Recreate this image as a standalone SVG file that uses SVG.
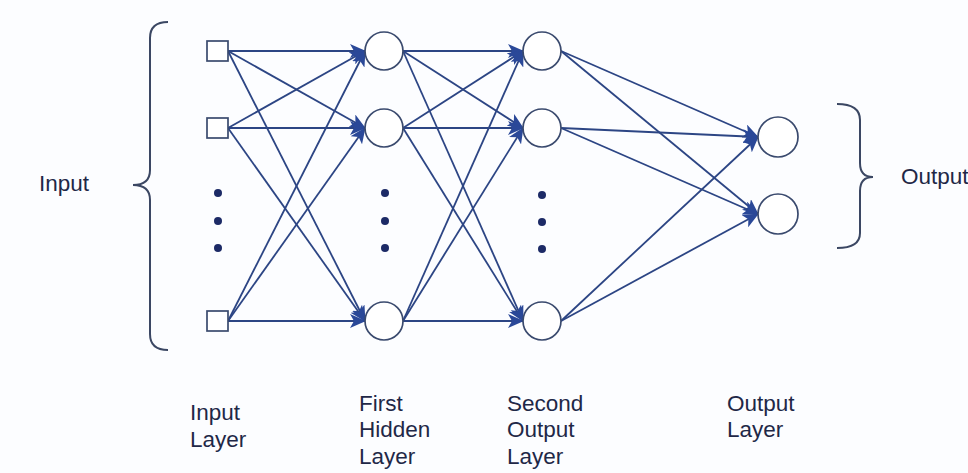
<svg xmlns="http://www.w3.org/2000/svg" width="968" height="473" viewBox="0 0 968 473">
<defs>
<marker id="arr" markerUnits="userSpaceOnUse" markerWidth="16" markerHeight="14" viewBox="0 0 16 14" refX="15" refY="7" orient="auto">
<path d="M0,0 L16,7 L0,14 L4,7 Z" fill="#2a4898"/>
</marker>
<style>
.edge{stroke:#2c4584;stroke-width:1.8;fill:none;marker-end:url(#arr)}
.sq{fill:#fff;stroke:#3a4a6e;stroke-width:1.7}
.nd{fill:#fff;stroke:#3a4a6e;stroke-width:1.7}
.dot{fill:#1c2a66}
.brace{fill:none;stroke:#3b4763;stroke-width:2}
.lbl{font-family:"Liberation Sans",Arial,sans-serif;font-size:22.5px;fill:#1f2847}
</style>
</defs>
<rect width="968" height="473" fill="#fcfdff"/>
<g id="connectors">
<line class="edge" x1="228" y1="51" x2="365" y2="51"/>
<line class="edge" x1="228" y1="51" x2="365" y2="128"/>
<line class="edge" x1="228" y1="51" x2="365" y2="321"/>
<line class="edge" x1="228" y1="128" x2="365" y2="51"/>
<line class="edge" x1="228" y1="128" x2="365" y2="128"/>
<line class="edge" x1="228" y1="128" x2="365" y2="321"/>
<line class="edge" x1="228" y1="321" x2="365" y2="51"/>
<line class="edge" x1="228" y1="321" x2="365" y2="128"/>
<line class="edge" x1="228" y1="321" x2="365" y2="321"/>
<line class="edge" x1="403" y1="51" x2="523" y2="51"/>
<line class="edge" x1="403" y1="51" x2="523" y2="128"/>
<line class="edge" x1="403" y1="51" x2="523" y2="321"/>
<line class="edge" x1="403" y1="128" x2="523" y2="51"/>
<line class="edge" x1="403" y1="128" x2="523" y2="128"/>
<line class="edge" x1="403" y1="128" x2="523" y2="321"/>
<line class="edge" x1="403" y1="321" x2="523" y2="51"/>
<line class="edge" x1="403" y1="321" x2="523" y2="128"/>
<line class="edge" x1="403" y1="321" x2="523" y2="321"/>
<line class="edge" x1="561" y1="51" x2="758" y2="137"/>
<line class="edge" x1="561" y1="51" x2="758" y2="214"/>
<line class="edge" x1="561" y1="128" x2="758" y2="137"/>
<line class="edge" x1="561" y1="128" x2="758" y2="214"/>
<line class="edge" x1="561" y1="321" x2="758" y2="137"/>
<line class="edge" x1="561" y1="321" x2="758" y2="214"/>
</g>
<g id="input-layer">
<rect class="sq" x="207" y="41" width="21" height="20"/>
<rect class="sq" x="207" y="118" width="21" height="20"/>
<rect class="sq" x="207" y="311" width="21" height="20"/>
<circle class="dot" cx="218" cy="193" r="4"/>
<circle class="dot" cx="218" cy="221" r="4"/>
<circle class="dot" cx="218" cy="248" r="4"/>
</g>
<g id="hidden1">
<circle class="nd" cx="384" cy="51" r="19"/>
<circle class="nd" cx="384" cy="128" r="19"/>
<circle class="nd" cx="384" cy="321" r="19"/>
<circle class="dot" cx="385" cy="193" r="4"/>
<circle class="dot" cx="385" cy="221" r="4"/>
<circle class="dot" cx="385" cy="248" r="4"/>
</g>
<g id="hidden2">
<circle class="nd" cx="542" cy="51" r="19"/>
<circle class="nd" cx="542" cy="128" r="19"/>
<circle class="nd" cx="542" cy="321" r="19"/>
<circle class="dot" cx="542" cy="195" r="4"/>
<circle class="dot" cx="542" cy="222" r="4"/>
<circle class="dot" cx="542" cy="249" r="4"/>
</g>
<g id="output-layer">
<circle class="nd" cx="778" cy="137" r="20"/>
<circle class="nd" cx="778" cy="214" r="20"/>
</g>
<g id="input-brace">
<path class="brace" d="M168,22 Q150,22 150,38 L150,170 Q150,185 133,185 Q150,185 150,200 L150,334 Q150,350 168,350"/>
<text class="lbl" x="39" y="191">Input</text>
</g>
<g id="output-brace">
<path class="brace" d="M837,104 Q860,104 860,120 L860,163 Q860,177 873,177 Q860,177 860,191 L860,233 Q860,248 837,248"/>
<text class="lbl" x="901" y="184">Output</text>
</g>
<g id="labels">
<text class="lbl" x="190" y="420">Input</text>
<text class="lbl" x="190" y="447">Layer</text>
<text class="lbl" x="359" y="411">First</text>
<text class="lbl" x="359" y="437">Hidden</text>
<text class="lbl" x="359" y="464">Layer</text>
<text class="lbl" x="507" y="411">Second</text>
<text class="lbl" x="507" y="437">Output</text>
<text class="lbl" x="507" y="464">Layer</text>
<text class="lbl" x="727" y="411">Output</text>
<text class="lbl" x="727" y="437">Layer</text>
</g>
</svg>
